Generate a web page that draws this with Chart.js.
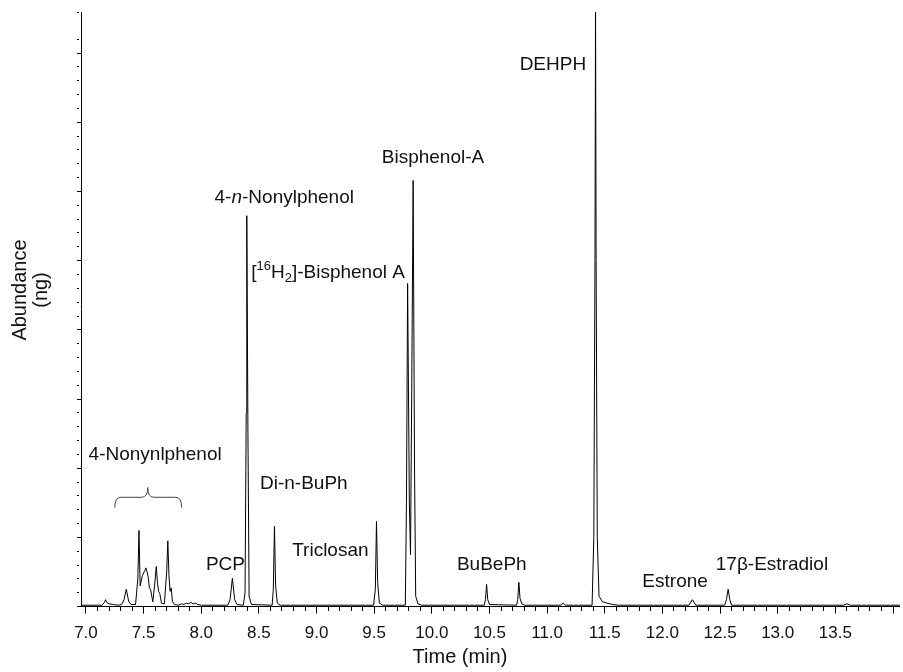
<!DOCTYPE html>
<html>
<head>
<meta charset="utf-8">
<script src="https://cdn.jsdelivr.net/npm/chart.js@4.4.1/dist/chart.umd.min.js"></script>
<style>
  html, body { margin: 0; padding: 0; background: #fff; }
  canvas { display: block; }
</style>
</head>
<body>
<canvas id="chromChart" width="903" height="672"></canvas>
<script>
// retention time (min) and detector abundance
const timeMin = [
  6.96, 7.14, 7.16, 7.17, 7.18, 7.20, 7.24, 7.28, 7.31, 7.33, 7.35, 7.37, 7.39, 7.43,
  7.45, 7.46, 7.47, 7.49, 7.51, 7.52, 7.53, 7.54, 7.55, 7.56, 7.58, 7.595, 7.61, 7.62,
  7.63, 7.64, 7.655, 7.68, 7.70, 7.71, 7.72, 7.73, 7.74, 7.75, 7.77, 7.80, 7.83, 7.85,
  7.87, 7.89, 7.91, 7.93, 7.95, 7.97, 8.00,
  8.23, 8.25, 8.27, 8.29, 8.31,
  8.365, 8.38, 8.39, 8.395, 8.405, 8.415, 8.435,
  8.615, 8.625, 8.635, 8.645, 8.66, 8.685,
  9.495, 9.51, 9.52, 9.53, 9.545, 9.575,
  9.77, 9.78, 9.79, 9.805, 9.815, 9.825, 9.838, 9.85, 9.86, 9.88, 9.91,
  10.455, 10.465, 10.475, 10.485, 10.50,
  10.735, 10.745, 10.755, 10.765, 10.78, 10.805,
  11.12, 11.14, 11.16,
  11.39, 11.405, 11.415, 11.42, 11.425, 11.435, 11.45, 11.48, 11.52, 11.57, 11.62,
  12.23, 12.26, 12.29,
  12.54, 12.555, 12.57, 12.585, 12.60,
  13.57, 13.60, 13.63, 14.06
];
const abundance = [
  0.02, 0.02, 0.06, 0.10, 0.06, 0.04, 0.03, 0.02, 0.03, 0.10, 0.25, 0.08, 0.03, 0.03,
  0.40, 1.10, 0.30, 0.45, 0.52, 0.56, 0.50, 0.43, 0.27, 0.25, 0.07, 0.30, 0.58, 0.35,
  0.22, 0.19, 0.05, 0.04, 0.50, 0.95, 0.45, 0.22, 0.27, 0.07, 0.03, 0.02, 0.04, 0.03,
  0.05, 0.04, 0.06, 0.04, 0.05, 0.03, 0.02,
  0.02, 0.10, 0.41, 0.10, 0.03,
  0.02, 0.20, 2.80, 5.65, 2.50, 0.15, 0.03,
  0.02, 0.25, 1.16, 0.30, 0.05, 0.02,
  0.02, 0.25, 1.23, 0.35, 0.05, 0.02,
  0.02, 1.50, 4.67, 1.50, 0.75, 3.00, 6.16, 2.00, 0.15, 0.04, 0.02,
  0.02, 0.10, 0.32, 0.10, 0.03,
  0.02, 0.10, 0.35, 0.12, 0.04, 0.02,
  0.02, 0.05, 0.02,
  0.02, 1.00, 5.00, 8.70, 5.00, 1.00, 0.15, 0.07, 0.05, 0.03, 0.02,
  0.02, 0.10, 0.02,
  0.02, 0.10, 0.25, 0.10, 0.02,
  0.02, 0.04, 0.02, 0.02
];

// peak names: text pieces (n = normal, i = italic, sup, sub) and anchor in data units
const labelParts = [
  [['DEHPH', 'n']],
  [['Bisphenol-A', 'n']],
  [['4-', 'n'], ['n', 'i'], ['-Nonylphenol', 'n']],
  [['[', 'n'], ['16', 'sup'], ['H', 'n'], ['2', 'sub'], [']-Bisphenol A', 'n']],
  [['Di-n-BuPh', 'n']],
  [['Triclosan', 'n']],
  [['PCP', 'n']],
  [['BuBePh', 'n']],
  [['Estrone', 'n']],
  [['17\u03B2-Estradiol', 'n']],
  [['4-Nonynlphenol', 'n']]
];
const labelTime  = [11.05, 10.01, 8.72, 9.10, 8.89, 9.12, 8.21, 10.52, 12.11, 12.95, 7.60];
const labelLevel = [7.83, 6.49, 5.91, 4.83, 1.78, 0.81, 0.61, 0.61, 0.36, 0.61, 2.20];

// brace over the nonylphenol isomer cluster: [left, tip, right] times
const braceTime = [7.25, 7.536, 7.83];

const FONT = "'Liberation Sans', Arial, Helvetica, sans-serif";

let chromData = timeMin.map((t, i) => ({ x: t, y: abundance[i] }));

function isMultiple(v, step) {
  let q = v / step;
  return Math.abs(q - Math.round(q)) < 1e-6;
}

function drawRich(ctx, parts, cx, cy, size) {
  let pieces = parts.map(([txt, kind]) => {
    let font;
    if (kind === 'i') font = 'italic ' + size + 'px ' + FONT;
    else if (kind === 'sup' || kind === 'sub') font = Math.round(size * 0.68) + 'px ' + FONT;
    else font = size + 'px ' + FONT;
    ctx.font = font;
    return { txt, kind, font, w: ctx.measureText(txt).width };
  });
  let total = pieces.reduce((s, p) => s + p.w, 0);
  let x = cx - total / 2;
  ctx.textBaseline = 'middle';
  ctx.textAlign = 'left';
  pieces.forEach(p => {
    ctx.font = p.font;
    let dy = p.kind === 'sup' ? -size * 0.3 : (p.kind === 'sub' ? size * 0.32 : 0);
    ctx.fillText(p.txt, x, cy + dy);
    x += p.w;
  });
}

const annotationPlugin = {
  id: 'chromAnnotations',
  afterDraw(chart) {
    const ctx = chart.ctx;
    const xs = chart.scales.x, ys = chart.scales.y;
    ctx.save();
    ctx.fillStyle = '#111';
    labelParts.forEach((parts, i) => {
      drawRich(ctx, parts, xs.getPixelForValue(labelTime[i]), ys.getPixelForValue(labelLevel[i]), 19);
    });

    // curly brace
    let xl = xs.getPixelForValue(braceTime[0]);
    let xt = xs.getPixelForValue(braceTime[1]);
    let xr = xs.getPixelForValue(braceTime[2]);
    let yEnd = ys.getPixelForValue(1.43), yBar = ys.getPixelForValue(1.58), yTip = ys.getPixelForValue(1.72);
    let r = 6;
    ctx.strokeStyle = '#444';
    ctx.lineWidth = 1;
    ctx.beginPath();
    ctx.moveTo(xl, yEnd);
    ctx.quadraticCurveTo(xl, yBar, xl + r, yBar);
    ctx.lineTo(xt - r, yBar);
    ctx.quadraticCurveTo(xt, yBar, xt, yTip);
    ctx.quadraticCurveTo(xt, yBar, xt + r, yBar);
    ctx.lineTo(xr - r, yBar);
    ctx.quadraticCurveTo(xr, yBar, xr, yEnd);
    ctx.stroke();

    // axis titles
    ctx.fillStyle = '#111';
    ctx.font = '20px ' + FONT;
    ctx.textAlign = 'center';
    ctx.textBaseline = 'middle';
    ctx.fillText('Time (min)', 460, 657);
    ctx.translate(30, 290);
    ctx.rotate(-Math.PI / 2);
    ctx.fillText('Abundance', 0, -10);
    ctx.fillText('(ng)', 0, 11);
    ctx.restore();
  }
};

let chromChart = new Chart(document.getElementById('chromChart'), {
  type: 'line',
  data: {
    datasets: [{
      data: chromData,
      borderColor: '#000',
      borderWidth: 1,
      pointRadius: 0,
      tension: 0,
      fill: false
    }]
  },
  options: {
    responsive: false,
    animation: false,
    layout: { padding: { left: 77, top: 12, right: 0, bottom: 18 } },
    plugins: { legend: { display: false }, tooltip: { enabled: false } },
    scales: {
      x: {
        type: 'linear',
        min: 6.957,
        max: 14.06,
        border: { color: '#000', width: 1 },
        grid: {
          drawOnChartArea: false,
          drawTicks: true,
          tickLength: 7,
          tickColor: '#000',
          tickBorderDash: ctx => (ctx.tick && isMultiple(ctx.tick.value, 0.5)) ? [] : [4, 20]
        },
        ticks: {
          stepSize: 0.1,
          autoSkip: false,
          includeBounds: false,
          maxRotation: 0,
          padding: 10,
          color: '#111',
          font: { family: FONT, size: 17 },
          callback: v => (isMultiple(v, 0.5) && v < 13.8) ? v.toFixed(1) : ''
        }
      },
      y: {
        min: 0,
        max: 8.594,
        border: { color: '#000', width: 1 },
        grid: {
          drawOnChartArea: false,
          drawTicks: true,
          tickLength: 4,
          tickColor: '#000',
          tickBorderDash: ctx => (ctx.tick && isMultiple(ctx.tick.value, 1)) ? [] : [2, 20]
        },
        ticks: { display: false, stepSize: 0.2, autoSkip: false }
      }
    }
  },
  plugins: [annotationPlugin]
});
</script>
</body>
</html>
